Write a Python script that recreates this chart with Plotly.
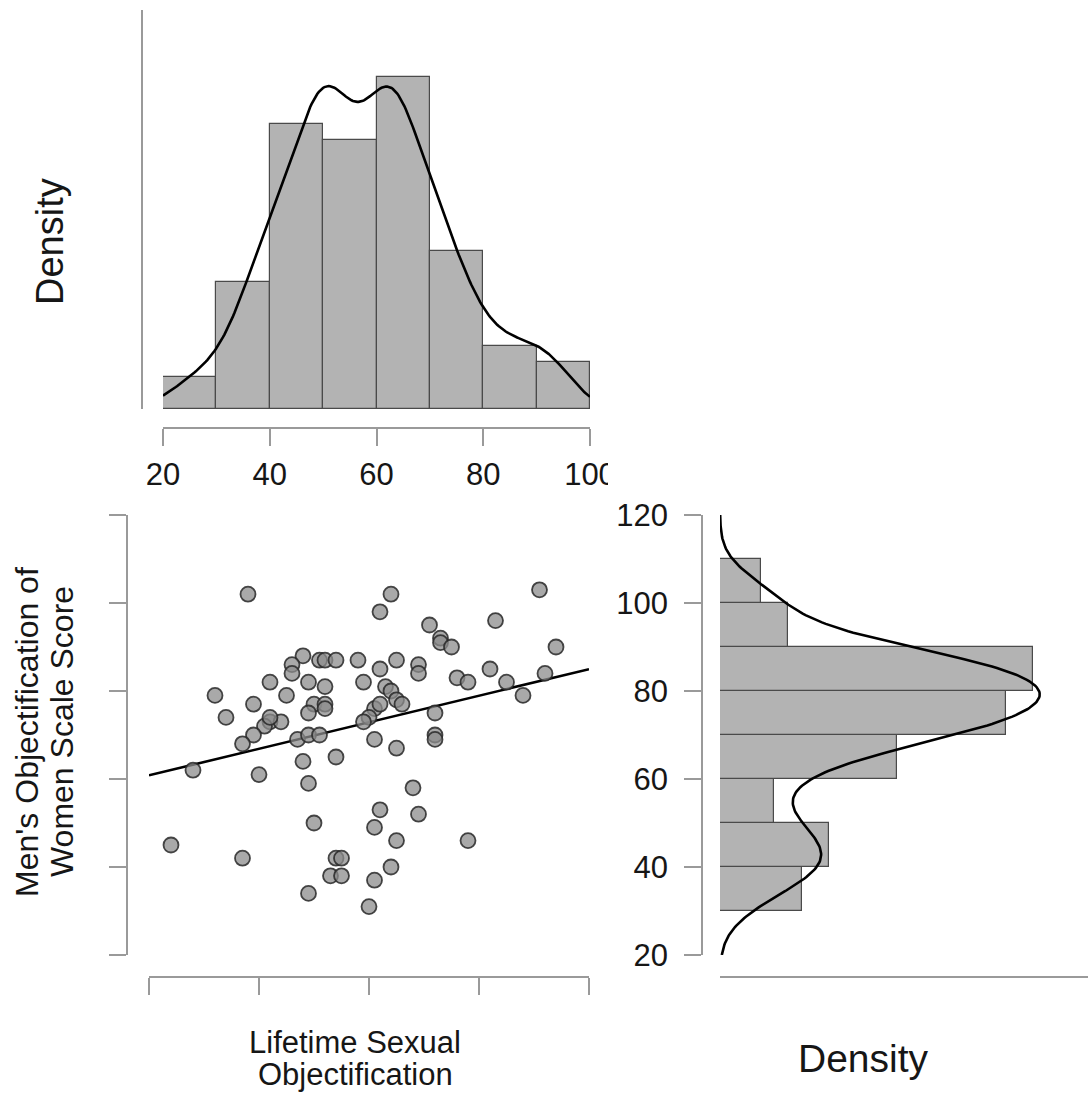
import numpy as np
import plotly.graph_objects as go

# ---------------- data ----------------
lifetime_obj = [38, 64, 91, 62, 71, 83, 73, 73, 75, 94, 48, 46, 46, 51, 52, 54, 58, 65, 69, 69,
                62, 82, 92, 42, 49, 52, 59, 63, 64, 76, 78, 85, 32, 45, 88, 39, 50, 52, 52, 49,
                65, 66, 61, 60, 59, 72, 34, 42, 44, 41, 39, 37, 47, 49, 51, 61, 72, 72, 65, 54,
                48, 28, 40, 49, 68, 62, 69, 50, 61, 65, 78, 24, 37, 54, 55, 64, 53, 55, 61, 49,
                60, 42, 62]
men_obj_score = [102, 102, 103, 98, 95, 96, 92, 91, 90, 90, 88, 86, 84, 87, 87, 87, 87, 87, 86, 84,
                 85, 85, 84, 82, 82, 81, 82, 81, 80, 83, 82, 82, 79, 79, 79, 77, 77, 77, 76, 75,
                 78, 77, 76, 74, 73, 75, 74, 73, 73, 72, 70, 68, 69, 70, 70, 69, 70, 69, 67, 65,
                 64, 62, 61, 59, 58, 53, 52, 50, 49, 46, 46, 45, 42, 42, 42, 40, 38, 38, 37, 34,
                 31, 74, 77]

x_bin_left = [20, 30, 40, 50, 60, 70, 80, 90]
x_bin_counts = [2, 8, 18, 17, 21, 10, 4, 3]
y_bin_left = [30, 40, 50, 60, 70, 80, 90, 100]
y_bin_counts = [6, 8, 4, 13, 21, 23, 5, 3]
bin_width = 10

x_ticks = [20, 40, 60, 80, 100]
y_ticks = [20, 40, 60, 80, 100, 120]

x_title_lines = ["Lifetime Sexual", "Objectification"]
y_title_lines = ["Men's Objectification of", "Women Scale Score"]
density_label = "Density"

# ---------------- derived ----------------
xv = np.array(lifetime_obj, dtype=float)
yv = np.array(men_obj_score, dtype=float)
n = len(xv)


def bw_nrd0(v):
    sd = np.std(v, ddof=1)
    q75, q25 = np.percentile(v, [75, 25])
    lo = min(sd, (q75 - q25) / 1.34)
    return 0.9 * lo * len(v) ** -0.2


def kde(v, grid, adjust=1.0):
    bw = bw_nrd0(v) * adjust
    z = (grid[:, None] - v[None, :]) / bw
    return np.exp(-0.5 * z ** 2).sum(axis=1) / (len(v) * bw * np.sqrt(2 * np.pi))


gx = np.linspace(20, 100, 300)
gy = np.linspace(20, 120, 300)
dx = kde(xv, gx, adjust=0.93)
dy = kde(yv, gy)

x_dens = [c / (n * bin_width) for c in x_bin_counts]
y_dens = [c / (n * bin_width) for c in y_bin_counts]
x_centers = [b + bin_width / 2 for b in x_bin_left]
y_centers = [b + bin_width / 2 for b in y_bin_left]

slope, intercept = np.polyfit(xv, yv, 1)
fit_x = np.array([20.0, 100.0])
fit_y = intercept + slope * fit_x

# ---------------- layout helpers ----------------
W, H = 1088, 1099


def fx(px):
    return px / W


def fy(py):
    return 1 - py / H


FONT = "Liberation Sans, Arial, Helvetica, sans-serif"
TXT = "#161616"
AX_COL = "#9a9a9a"
BAR_FILL = "#b3b3b3"
BAR_LINE = "#4a4a4a"

fig = go.Figure()

# top histogram
fig.add_trace(go.Bar(x=x_centers, y=x_dens, width=bin_width,
                     marker=dict(color=BAR_FILL, line=dict(color=BAR_LINE, width=1.2)),
                     xaxis="x", yaxis="y", showlegend=False, hoverinfo="skip"))
fig.add_trace(go.Scatter(x=gx, y=dx, mode="lines", line=dict(color="black", width=2.6),
                         xaxis="x", yaxis="y", showlegend=False, hoverinfo="skip"))

# scatter
fig.add_trace(go.Scatter(x=fit_x, y=fit_y, mode="lines", line=dict(color="black", width=2.6),
                         xaxis="x2", yaxis="y2", showlegend=False, hoverinfo="skip"))
fig.add_trace(go.Scatter(x=xv, y=yv, mode="markers",
                         marker=dict(size=15, color="rgba(140,140,140,0.75)",
                                     line=dict(color="rgba(40,40,40,0.85)", width=1.8)),
                         xaxis="x2", yaxis="y2", showlegend=False))

# right histogram
fig.add_trace(go.Bar(y=y_centers, x=y_dens, width=bin_width, orientation="h",
                     marker=dict(color=BAR_FILL, line=dict(color=BAR_LINE, width=1.2)),
                     xaxis="x3", yaxis="y3", showlegend=False, hoverinfo="skip"))
fig.add_trace(go.Scatter(x=dy, y=gy, mode="lines", line=dict(color="black", width=2.6),
                         xaxis="x3", yaxis="y3", showlegend=False, hoverinfo="skip"))

common = dict(showgrid=False, zeroline=False, showline=True, linecolor=AX_COL, linewidth=1.6,
              tickcolor=AX_COL, tickwidth=1.6, ticklen=17, automargin=False,
              tickfont=dict(family=FONT, size=31, color=TXT))


def label(text, px, py, size, angle=0):
    return dict(text=text, x=fx(px), y=fy(py), xref="paper", yref="paper", textangle=angle,
                showarrow=False, xanchor="center", yanchor="middle",
                font=dict(family=FONT, size=size, color=TXT))


fig.update_layout(
    width=W, height=H,
    margin=dict(l=0, r=0, t=0, b=0, pad=0),
    paper_bgcolor="white", plot_bgcolor="white",
    bargap=0,
    xaxis=dict(domain=[fx(163), fx(590)], range=[20, 100], anchor="free", position=fy(428),
               ticks="outside", tickvals=x_ticks, ticktext=[str(t) for t in x_ticks],
               ticklabelstandoff=2, **common),
    yaxis=dict(domain=[fy(409), fy(10)], range=[0, 0.0304], anchor="free", position=fx(142),
               ticks="", showticklabels=False, **common),
    xaxis2=dict(domain=[fx(149), fx(589)], range=[20, 100], anchor="free", position=fy(977),
                ticks="outside", tickvals=x_ticks, showticklabels=False, **common),
    yaxis2=dict(domain=[fy(955), fy(515)], range=[20, 120], anchor="free", position=fx(127),
                ticks="outside", tickvals=y_ticks, showticklabels=False, **common),
    xaxis3=dict(domain=[fx(720), 1.0], range=[0, 0.0326], anchor="free", position=fy(977),
                ticks="", showticklabels=False, **common),
    yaxis3=dict(domain=[fy(955), fy(515)], range=[20, 120], anchor="free", position=fx(702),
                ticks="outside", tickvals=y_ticks, ticktext=[str(t) for t in y_ticks],
                ticklabelstandoff=10, **common),
    annotations=[
        label(density_label, 50, 242, 38, -90),
        label(y_title_lines[0], 27, 732, 32, -90),
        label(y_title_lines[1], 62, 732, 32, -90),
        label(x_title_lines[0], 355, 1042, 31),
        label(x_title_lines[1], 355, 1074, 31),
        label(density_label, 863, 1058, 39),
    ],
    shapes=[
        dict(type="rect", xref="paper", yref="paper", x0=fx(608), x1=fx(660),
             y0=fy(500), y1=fy(452), fillcolor="white", line=dict(width=0), layer="above"),
    ],
)

fig.write_html("out.html", config={"displayModeBar": False},
               post_script="document.body.style.margin='0px';")
